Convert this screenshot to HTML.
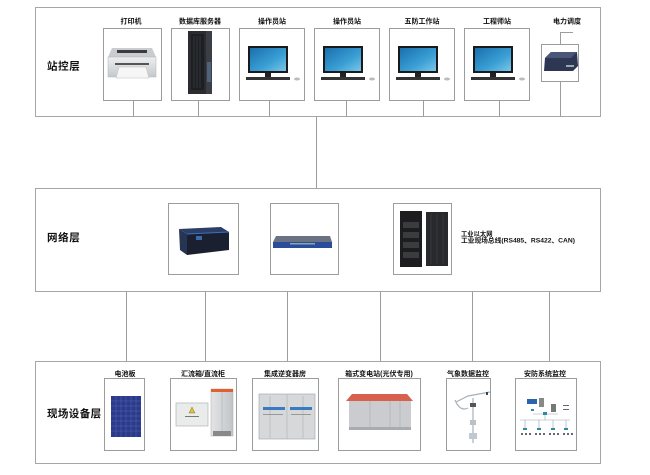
<!DOCTYPE html>
<html><head><meta charset="utf-8">
<style>
html,body{margin:0;padding:0;background:#fff;}
svg{display:block;}
text{font-family:"Liberation Sans","Noto Sans CJK SC",sans-serif;font-weight:bold;fill:#111;}
</style></head>
<body>
<svg width="650" height="475" viewBox="0 0 650 475" xmlns="http://www.w3.org/2000/svg">
<defs>
<linearGradient id="scr" x1="0" y1="0" x2="1" y2="1">
<stop offset="0" stop-color="#1a6fae"/><stop offset="0.6" stop-color="#3a9fd4"/><stop offset="1" stop-color="#7cc6e8"/>
</linearGradient>
<linearGradient id="prn" x1="0" y1="0" x2="0" y2="1">
<stop offset="0" stop-color="#eceef0"/><stop offset="1" stop-color="#c6c9cc"/>
</linearGradient>
<linearGradient id="cab" x1="0" y1="0" x2="1" y2="0">
<stop offset="0" stop-color="#e2e4e6"/><stop offset="1" stop-color="#c2c5c8"/>
</linearGradient>
</defs>

<g fill="none" stroke="#a6a6a6" stroke-width="1">
<rect x="35.5" y="7.5" width="565" height="109"/>
<rect x="35.5" y="188.5" width="565" height="103"/>
<rect x="35.5" y="361.5" width="565" height="102"/>
</g>

<g fill="none" stroke="#9c9c9c" stroke-width="1">
<rect x="103.5" y="28.5" width="58" height="72"/>
<rect x="171.5" y="28.5" width="58" height="72"/>
<rect x="239.5" y="28.5" width="65" height="72"/>
<rect x="314.5" y="28.5" width="65" height="72"/>
<rect x="389.5" y="28.5" width="65" height="72"/>
<rect x="464.5" y="28.5" width="65" height="72"/>
<rect x="541.5" y="44.5" width="37" height="37"/>
<path d="M133.5 101V117M198.5 101V117M269.5 101V117M346.5 101V117M423.5 101V117M499.5 101V117M560.5 82V117M560.5 44V32.5H573"/>
<path d="M316.5 117V188"/>
<rect x="168.5" y="203.5" width="70" height="71"/>
<rect x="270.5" y="203.5" width="68" height="71"/>
<rect x="393.5" y="203.5" width="58" height="71"/>
<path d="M126.5 292V361M205.5 292V361M287.5 292V361M380.5 292V361M472.5 292V361M549.5 292V361"/>
<rect x="104.5" y="378.5" width="40" height="72"/>
<rect x="170.5" y="378.5" width="66" height="72"/>
<rect x="252.5" y="378.5" width="66" height="72"/>
<rect x="338.5" y="378.5" width="82" height="72"/>
<rect x="446.5" y="378.5" width="44" height="72"/>
<rect x="515.5" y="378.5" width="61" height="72"/>
</g>

<text x="47" y="69.5" font-size="10.5" letter-spacing="0.6">站控层</text>
<text x="47" y="241" font-size="10.5" letter-spacing="0.6">网络层</text>
<text x="47" y="417" font-size="10.5" letter-spacing="0.4">现场设备层</text>

<g font-size="7" text-anchor="middle">
<text x="131" y="23.5">打印机</text>
<text x="200" y="23.5">数据库服务器</text>
<text x="272" y="23.5">操作员站</text>
<text x="347" y="23.5">操作员站</text>
<text x="422" y="23.5">五防工作站</text>
<text x="497" y="23.5">工程师站</text>
<text x="567" y="23.5">电力调度</text>
</g>

<text x="461" y="236" font-size="6.3">工业以太网</text>
<text x="461" y="242.5" font-size="6.3" textLength="114" lengthAdjust="spacingAndGlyphs">工业现场总线(RS485、RS422、CAN)</text>

<g font-size="7" text-anchor="middle">
<text x="125" y="376">电池板</text>
<text x="203" y="376">汇流箱/直流柜</text>
<text x="285" y="376">集成逆变器房</text>
<text x="379" y="376">箱式变电站(光伏专用)</text>
<text x="468" y="376">气象数据监控</text>
<text x="545" y="376">安防系统监控</text>
</g>

<polygon points="112,48 152,48 156,57 108,57" fill="#c9ccd0"/>
<rect x="117" y="50" width="30" height="3" fill="#3a3c40"/>
<rect x="108" y="57" width="48" height="20" fill="url(#prn)" stroke="#b0b3b6" stroke-width="0.5"/>
<rect x="115" y="63" width="34" height="2" fill="#555"/>
<polygon points="119,67 146,67 149,78 116,78" fill="#f6f6f6" stroke="#bbb" stroke-width="0.5"/>

<rect x="188" y="31" width="24" height="63" fill="#2a2c30"/>
<rect x="206" y="31" width="6" height="63" fill="#3b3f45"/>
<rect x="191" y="34" width="13" height="56" fill="#1d1f22"/>
<g stroke="#45484d" stroke-width="0.6"><path d="M194 36V88M197 36V88M200 36V88"/></g>
<rect x="207" y="62" width="4" height="20" fill="#5a7aa0" opacity="0.6"/>

<g id="mon1">
<rect x="248" y="46" width="40" height="27" fill="#1a1a1a"/>
<rect x="250" y="48" width="36" height="23" fill="url(#scr)"/>
<rect x="265" y="73" width="6" height="4" fill="#222"/>
<rect x="246" y="77" width="44" height="3" fill="#333"/>
<ellipse cx="297" cy="79" rx="3" ry="1.5" fill="#bbb"/>
</g>
<use href="#mon1" x="75"/>
<use href="#mon1" x="150"/>
<use href="#mon1" x="225"/>

<polygon points="545,58 551,52 577,52 578,66 573,71 544,71" fill="#2d3652"/>
<polygon points="545,58 551,52 577,52 571,58" fill="#4a5678"/>
<rect x="566" y="65" width="8" height="2" fill="#9aa"/>

<polygon points="179,229 221,227 229,232 187,234" fill="#2c3e66"/>
<polygon points="187,234 229,232 229,250 187,255" fill="#1a2030"/>
<polygon points="179,229 187,234 187,255 180,250" fill="#253552"/>
<rect x="196" y="236" width="6" height="4" fill="#3a6aaa"/>
<path d="M187 234L229 232" stroke="#3a70c0" stroke-width="1"/>

<polygon points="276,236 330,236 332,242 273,242" fill="#6b7382"/>
<rect x="273" y="242" width="59" height="6" fill="#2a4c9a"/>
<rect x="290" y="243" width="25" height="1.5" fill="#8aa"/>

<rect x="400" y="211" width="22" height="56" fill="#1d1d1f"/>
<g fill="#3a3c40"><rect x="403" y="222" width="16" height="6"/><rect x="403" y="232" width="16" height="6"/><rect x="403" y="242" width="16" height="6"/><rect x="403" y="252" width="16" height="6"/></g>
<rect x="426" y="212" width="22" height="54" fill="#28292c"/>
<g stroke="#3b3d41" stroke-width="0.8"><path d="M431 214V264M437 214V264M443 214V264"/></g>

<rect x="111" y="396" width="30" height="41" fill="#2b3a8a"/>
<g stroke="#5566b0" stroke-width="0.5"><path d="M116 396V437M121 396V437M126 396V437M131 396V437M136 396V437M111 401H141M111 406H141M111 411H141M111 416H141M111 421H141M111 426H141M111 431H141"/></g>

<rect x="176" y="403" width="32" height="23" fill="#eaecec" stroke="#a8a8a8" stroke-width="0.6"/>
<polygon points="192,407 195,413 189,413" fill="#e8c020" stroke="#333" stroke-width="0.3"/>
<rect x="185" y="416" width="14" height="1" fill="#777"/>
<rect x="211" y="389" width="22" height="47" fill="url(#cab)" stroke="#aaa" stroke-width="0.5"/>
<rect x="211" y="389" width="22" height="3" fill="#e06030"/>
<path d="M222 392V436" stroke="#aaa" stroke-width="0.5"/>
<rect x="213" y="431" width="18" height="5" fill="#888"/>

<rect x="259" y="394" width="56" height="45" fill="#d6d8da" stroke="#a9acb0" stroke-width="0.7"/>
<path d="M287 394V439M270 396V438M303 396V438" stroke="#b0b3b6" stroke-width="0.6"/>
<rect x="263" y="407" width="22" height="3" fill="#3a7ac0"/>
<rect x="290" y="407" width="22" height="3" fill="#3a7ac0"/>
<rect x="263" y="414" width="20" height="1" fill="#999"/>
<rect x="291" y="414" width="20" height="1" fill="#999"/>

<polygon points="346,401 352,394 407,394 413,401" fill="#d8604e"/>
<rect x="349" y="401" width="62" height="29" fill="#cacccf"/>
<path d="M370 401V430M390 401V430M400 401V430" stroke="#a8abae" stroke-width="0.6"/>
<rect x="349" y="427" width="62" height="3" fill="#a9acae"/>

<g stroke="#a8b0b8" stroke-width="1.2" fill="none">
<path d="M473 398V443"/>
<path d="M456 402L468 396L490 392"/>
<path d="M455 400Q460 412 468 408"/>
</g>
<rect x="470" y="420" width="6" height="5" fill="#b8c0c8"/>
<rect x="469" y="433" width="8" height="6" fill="#c0c8d0"/>
<rect x="470" y="403" width="6" height="4" fill="#555"/>
<rect x="486" y="392" width="2" height="3" fill="#345"/>

<rect x="527" y="399" width="10" height="5" fill="#2a64b0"/>
<rect x="539" y="398" width="5" height="9" fill="#888"/>
<rect x="551" y="404" width="5" height="8" fill="#777"/>
<g stroke="#9aa4ae" stroke-width="0.6" fill="none">
<path d="M533 414H558M545 414V420M520 420H570M525 420V428M539 420V428M553 420V428M566 420V428"/>
</g>
<g fill="#2e8aa8">
<rect x="523" y="428" width="4" height="2"/><rect x="537" y="428" width="4" height="2"/><rect x="551" y="428" width="4" height="2"/><rect x="564" y="428" width="4" height="2"/>
<rect x="543" y="412" width="4" height="3"/><rect x="531" y="409" width="3" height="2"/>
</g>
<g fill="#667">
<rect x="521" y="433" width="2" height="2"/><rect x="525" y="433" width="2" height="2"/><rect x="529" y="433" width="2" height="2"/>
<rect x="535" y="433" width="2" height="2"/><rect x="539" y="433" width="2" height="2"/><rect x="543" y="433" width="2" height="2"/>
<rect x="549" y="433" width="2" height="2"/><rect x="553" y="433" width="2" height="2"/><rect x="557" y="433" width="2" height="2"/>
<rect x="563" y="433" width="2" height="2"/><rect x="567" y="433" width="2" height="2"/><rect x="571" y="433" width="2" height="2"/>
<rect x="563" y="405" width="6" height="1"/><rect x="563" y="409" width="6" height="1"/>
</g>
</svg>
</body></html>
